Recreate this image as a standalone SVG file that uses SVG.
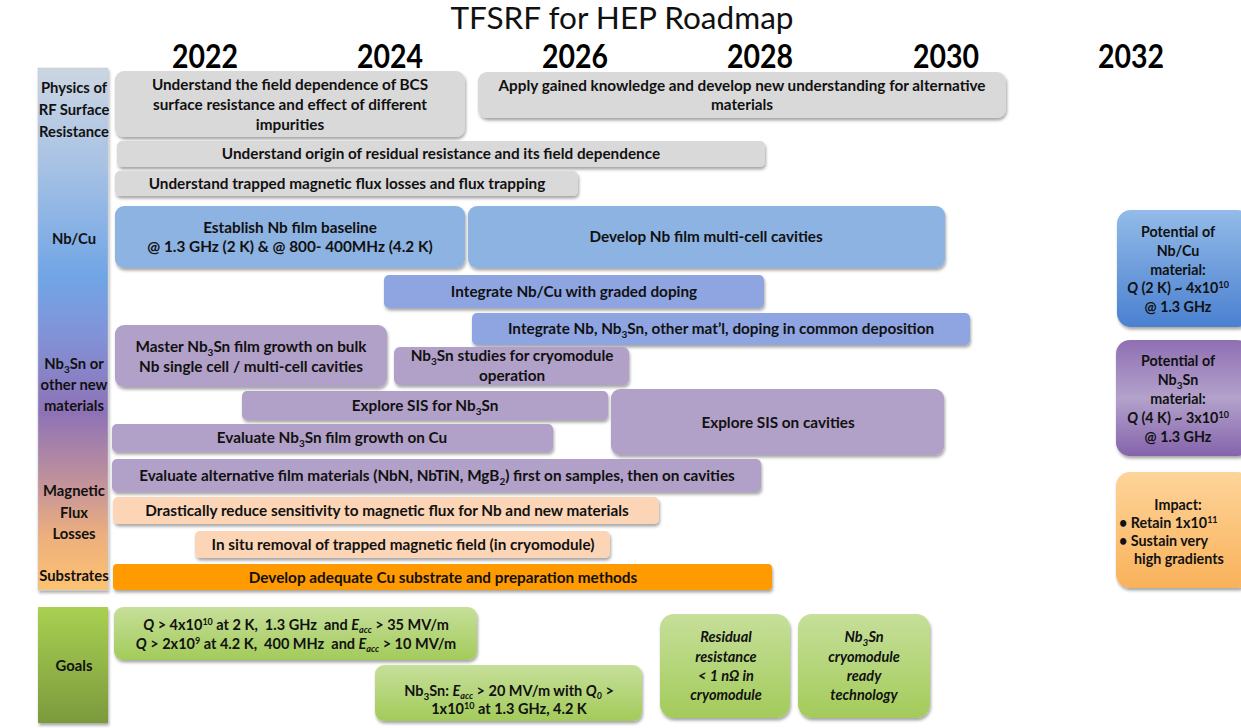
<svg xmlns="http://www.w3.org/2000/svg" width="1241" height="728" viewBox="0 0 1241 728">
<defs>
<filter id="sh" x="-10%" y="-20%" width="120%" height="150%">
<feDropShadow dx="1" dy="2.5" stdDeviation="1.5" flood-color="#000" flood-opacity="0.35"/>
</filter>
<linearGradient id="gLeft" x1="0" y1="68" x2="0" y2="590" gradientUnits="userSpaceOnUse">
<stop offset="0" stop-color="#ccd6e2"/>
<stop offset="0.18" stop-color="#a9c3e4"/>
<stop offset="0.4" stop-color="#70a5e6"/>
<stop offset="0.52" stop-color="#8391d6"/>
<stop offset="0.66" stop-color="#8e72b6"/>
<stop offset="0.8" stop-color="#c4949a"/>
<stop offset="0.9" stop-color="#eeb07c"/>
<stop offset="1" stop-color="#fdc272"/>
</linearGradient>
<linearGradient id="gGoal" x1="0" y1="0" x2="0" y2="1">
<stop offset="0" stop-color="#a9d052"/>
<stop offset="1" stop-color="#7b9a3c"/>
</linearGradient>
<linearGradient id="gGreen" x1="0" y1="0" x2="0" y2="1">
<stop offset="0" stop-color="#c6df9a"/>
<stop offset="1" stop-color="#a3cb5a"/>
</linearGradient>
<linearGradient id="gBlue" x1="0" y1="0" x2="0" y2="1">
<stop offset="0" stop-color="#93bbe8"/>
<stop offset="1" stop-color="#4a80d0"/>
</linearGradient>
<linearGradient id="gPurp" x1="0" y1="0" x2="0" y2="1">
<stop offset="0" stop-color="#8f6fb3"/>
<stop offset="0.5" stop-color="#b3a2cb"/>
<stop offset="1" stop-color="#8563ac"/>
</linearGradient>
<linearGradient id="gOrg" x1="0" y1="0" x2="0" y2="1">
<stop offset="0" stop-color="#fdd49a"/>
<stop offset="1" stop-color="#f9b25a"/>
</linearGradient>
</defs>
<style>
text{font-family:Lato,"Liberation Sans",sans-serif;font-weight:bold;font-size:15.3px;fill:#111;text-anchor:middle}
.yr{font-size:32px;font-weight:bold;fill:#000}
.title{font-size:30px;font-weight:normal;fill:#111}
.lab{font-size:14.8px}
.g{font-size:14.5px}
.sm{font-size:14.3px}
.it{font-style:italic}
.gray{fill:#d9d9d9}
.blue{fill:#8db3e2}
.peri{fill:#8ea5e2}
.purp{fill:#b1a0c7}
.peach{fill:#fbd5b5}
.orange{fill:#ff9a00}
</style>

<text class="title" x="622" y="29" textLength="343" lengthAdjust="spacingAndGlyphs">TFSRF for HEP Roadmap</text>
<g id="years">
<text class="yr" x="205" y="68" textLength="66" lengthAdjust="spacingAndGlyphs">2022</text>
<text class="yr" x="390" y="68" textLength="66" lengthAdjust="spacingAndGlyphs">2024</text>
<text class="yr" x="575" y="68" textLength="66" lengthAdjust="spacingAndGlyphs">2026</text>
<text class="yr" x="760" y="68" textLength="66" lengthAdjust="spacingAndGlyphs">2028</text>
<text class="yr" x="946" y="68" textLength="66" lengthAdjust="spacingAndGlyphs">2030</text>
<text class="yr" x="1131" y="68" textLength="66" lengthAdjust="spacingAndGlyphs">2032</text>
</g>

<g id="categories">
<rect x="38" y="68" width="70" height="522" fill="url(#gLeft)" filter="url(#sh)" stroke="#c0c8d0" stroke-width="0.5"/>
<text class="lab" x="74" y="93">Physics of</text>
<text class="lab" x="74" y="115">RF Surface</text>
<text class="lab" x="74" y="137">Resistance</text>
<text class="lab" x="74" y="244">Nb/Cu</text>
<text class="lab" x="74" y="369">Nb<tspan dy="4" font-size="10">3</tspan><tspan dy="-4">Sn or</tspan></text>
<text class="lab" x="74" y="390">other new</text>
<text class="lab" x="74" y="411">materials</text>
<text class="lab" x="74" y="496">Magnetic</text>
<text class="lab" x="74" y="518">Flux</text>
<text class="lab" x="74" y="539">Losses</text>
<text class="lab" x="74" y="581">Substrates</text>
</g>
<g id="goals-label">
<rect x="38" y="607" width="70" height="116" fill="url(#gGoal)" filter="url(#sh)"/>
<text class="lab" x="74" y="671">Goals</text>
</g>

<g id="bcs">
<rect class="gray" x="115" y="71" width="350" height="66" rx="9" filter="url(#sh)"/>
<text x="290" y="90">Understand the field dependence of BCS</text>
<text x="290" y="110">surface resistance and effect of different</text>
<text x="290" y="130">impurities</text>
</g>
<g id="apply">
<rect class="gray" x="478" y="72" width="528" height="46" rx="9" filter="url(#sh)"/>
<text x="742" y="91">Apply gained knowledge and develop new understanding for alternative</text>
<text x="742" y="110">materials</text>
</g>
<g id="residual">
<rect class="gray" x="117" y="141" width="648" height="26" rx="5" filter="url(#sh)"/>
<text x="441" y="159">Understand origin of residual resistance and its field dependence</text>
</g>
<g id="trapped">
<rect class="gray" x="115" y="171" width="463" height="25" rx="5" filter="url(#sh)"/>
<text x="347" y="189">Understand trapped magnetic flux losses and flux trapping</text>
</g>

<g id="baseline">
<rect class="blue" x="115" y="206" width="350" height="62" rx="9" filter="url(#sh)"/>
<text x="290" y="233">Establish Nb film baseline</text>
<text x="290" y="252">@ 1.3 GHz (2 K) &amp; @ 800- 400MHz (4.2 K)</text>
</g>
<g id="multicell">
<rect class="blue" x="468" y="206" width="477" height="62" rx="9" filter="url(#sh)"/>
<text x="706" y="242">Develop Nb film multi-cell cavities</text>
</g>
<g id="graded">
<rect class="peri" x="384" y="275" width="380" height="33" rx="5" filter="url(#sh)"/>
<text x="574" y="297">Integrate Nb/Cu with graded doping</text>
</g>
<g id="common">
<rect class="peri" x="472" y="313" width="498" height="32" rx="5" filter="url(#sh)"/>
<text x="721" y="334">Integrate Nb, Nb<tspan dy="4" font-size="10">3</tspan><tspan dy="-4">Sn, other mat’l, doping in common deposition</tspan></text>
</g>

<g id="master">
<rect class="purp" x="115" y="325" width="272" height="62" rx="9" filter="url(#sh)"/>
<text x="251" y="352">Master Nb<tspan dy="4" font-size="10">3</tspan><tspan dy="-4">Sn film growth on bulk</tspan></text>
<text x="251" y="372">Nb single cell / multi-cell cavities</text>
</g>
<g id="cryostudies">
<rect class="purp" x="394" y="347" width="235" height="38" rx="6" filter="url(#sh)"/>
<text x="512" y="361">Nb<tspan dy="4" font-size="10">3</tspan><tspan dy="-4">Sn studies for cryomodule</tspan></text>
<text x="512" y="381">operation</text>
</g>
<g id="sis">
<rect class="purp" x="242" y="391" width="366" height="29" rx="5" filter="url(#sh)"/>
<text x="425" y="411">Explore SIS for Nb<tspan dy="4" font-size="10">3</tspan><tspan dy="-4">Sn</tspan></text>
</g>
<g id="siscav">
<rect class="purp" x="611" y="389" width="333" height="66" rx="9" filter="url(#sh)"/>
<text x="778" y="428">Explore SIS on cavities</text>
</g>
<g id="oncu">
<rect class="purp" x="112" y="424" width="441" height="28" rx="5" filter="url(#sh)"/>
<text x="332" y="443">Evaluate Nb<tspan dy="4" font-size="10">3</tspan><tspan dy="-4">Sn film growth on Cu</tspan></text>
</g>
<g id="alt">
<rect class="purp" x="112" y="459" width="649" height="33" rx="5" filter="url(#sh)"/>
<text x="437" y="481">Evaluate alternative film materials (NbN, NbTiN, MgB<tspan dy="4" font-size="10">2</tspan><tspan dy="-4">) first on samples, then on cavities</tspan></text>
</g>

<g id="sensitivity">
<rect class="peach" x="113" y="497" width="546" height="27" rx="5" filter="url(#sh)"/>
<text x="387" y="516">Drastically reduce sensitivity to magnetic flux for Nb and new materials</text>
</g>
<g id="insitu">
<rect class="peach" x="195" y="531" width="415" height="27" rx="5" filter="url(#sh)"/>
<text x="403" y="550">In situ removal of trapped magnetic field (in cryomodule)</text>
</g>
<g id="substrate">
<rect class="orange" x="113" y="564" width="659" height="26" rx="4" filter="url(#sh)"/>
<text x="443" y="583">Develop adequate Cu substrate and preparation methods</text>
</g>

<g id="goal1">
<rect x="114" y="607" width="363" height="53" rx="9" fill="url(#gGreen)" filter="url(#sh)"/>
<text class="g" x="296" y="630"><tspan class="it">Q</tspan> &gt; 4x10<tspan dy="-5" font-size="9">10</tspan><tspan dy="5"> at 2 K,&#160; 1.3 GHz&#160; and </tspan><tspan class="it">E</tspan><tspan class="it" dy="3" font-size="9">acc</tspan><tspan dy="-3"> &gt; 35 MV/m</tspan></text>
<text class="g" x="296" y="649"><tspan class="it">Q</tspan> &gt; 2x10<tspan dy="-5" font-size="9">9</tspan><tspan dy="5"> at 4.2 K,&#160; 400 MHz&#160; and </tspan><tspan class="it">E</tspan><tspan class="it" dy="3" font-size="9">acc</tspan><tspan dy="-3"> &gt; 10 MV/m</tspan></text>
</g>
<g id="goal2">
<rect x="375" y="665" width="267" height="56" rx="9" fill="url(#gGreen)" filter="url(#sh)"/>
<text class="g" x="509" y="696">Nb<tspan dy="4" font-size="10">3</tspan><tspan dy="-4">Sn: </tspan><tspan class="it">E</tspan><tspan class="it" dy="3" font-size="9">acc</tspan><tspan dy="-3"> &gt; 20 MV/m with </tspan><tspan class="it">Q</tspan><tspan class="it" dy="3" font-size="9">0</tspan><tspan dy="-3"> &gt;</tspan></text>
<text class="g" x="509" y="714">1x10<tspan dy="-5" font-size="9">10</tspan><tspan dy="5"> at 1.3 GHz, 4.2 K</tspan></text>
</g>
<g id="goal3">
<rect x="660" y="614" width="130" height="104" rx="14" fill="url(#gGreen)" filter="url(#sh)"/>
<text class="it g" x="726" y="642">Residual</text>
<text class="it g" x="726" y="662">resistance</text>
<text class="it g" x="726" y="681">&lt; 1 nΩ in</text>
<text class="it g" x="726" y="700">cryomodule</text>
</g>
<g id="goal4">
<rect x="798" y="614" width="132" height="104" rx="14" fill="url(#gGreen)" filter="url(#sh)"/>
<text class="it g" x="864" y="642">Nb<tspan dy="4" font-size="10">3</tspan><tspan dy="-4">Sn</tspan></text>
<text class="it g" x="864" y="662">cryomodule</text>
<text class="it g" x="864" y="681">ready</text>
<text class="it g" x="864" y="700">technology</text>
</g>

<g id="pot-nbcu">
<rect x="1117" y="210" width="134" height="117" rx="14" fill="url(#gBlue)" filter="url(#sh)"/>
<text class="sm" x="1178" y="237">Potential of</text>
<text class="sm" x="1178" y="256">Nb/Cu</text>
<text class="sm" x="1178" y="275">material:</text>
<text class="sm" x="1178" y="293"><tspan class="it">Q</tspan> (2 K) ~ 4x10<tspan dy="-5" font-size="9">10</tspan></text>
<text class="sm" x="1178" y="312">@ 1.3 GHz</text>
</g>
<g id="pot-nb3sn">
<rect x="1116" y="340" width="135" height="116" rx="14" fill="url(#gPurp)" filter="url(#sh)"/>
<text class="sm" x="1178" y="366">Potential of</text>
<text class="sm" x="1178" y="385">Nb<tspan dy="4" font-size="10">3</tspan><tspan dy="-4">Sn</tspan></text>
<text class="sm" x="1178" y="404">material:</text>
<text class="sm" x="1178" y="423"><tspan class="it">Q</tspan> (4 K) ~ 3x10<tspan dy="-5" font-size="9">10</tspan></text>
<text class="sm" x="1178" y="442">@ 1.3 GHz</text>
</g>
<g id="impact">
<rect x="1116" y="472" width="135" height="116" rx="14" fill="url(#gOrg)" filter="url(#sh)"/>
<text class="sm" x="1178" y="510">Impact:</text>
<text class="sm" x="1119" y="528" style="text-anchor:start">• Retain 1x10<tspan dy="-5" font-size="9">11</tspan></text>
<text class="sm" x="1119" y="546" style="text-anchor:start">• Sustain very</text>
<text class="sm" x="1134" y="564" style="text-anchor:start">high gradients</text>
</g>
<g id="connectors"></g>
</svg>
